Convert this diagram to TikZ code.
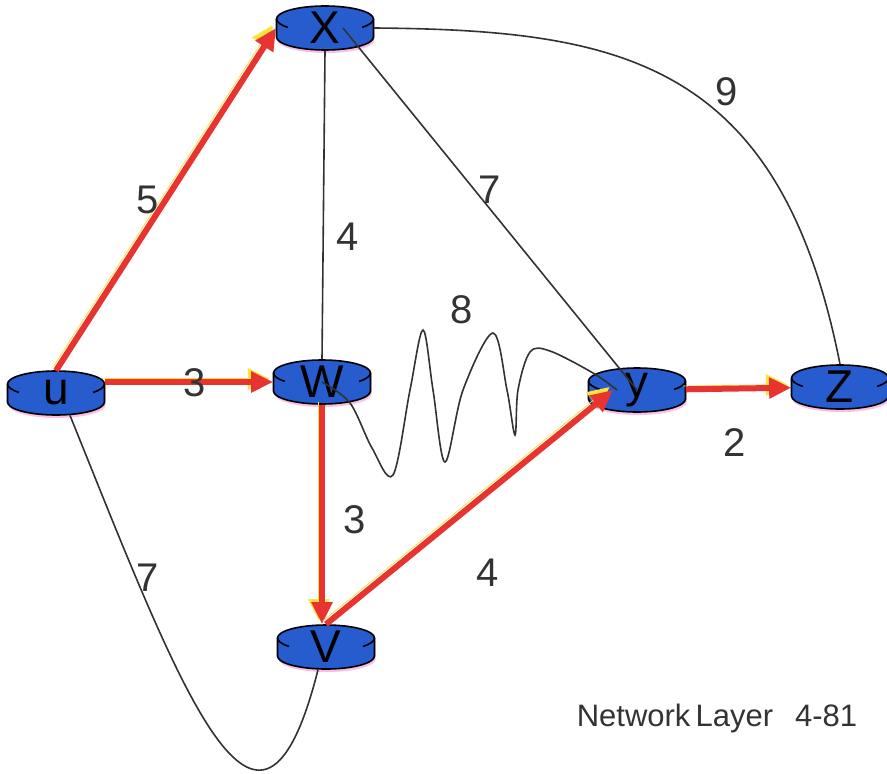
\documentclass[tikz,border=0pt]{standalone}
\usepackage{fontspec}
\setmainfont{Liberation Sans}
\usetikzlibrary{positioning,arrows.meta,calc,shapes.geometric}
\definecolor{routerblue}{RGB}{38,92,205}
\definecolor{pathred}{RGB}{232,52,48}
\definecolor{pathyellow}{RGB}{255,226,60}
\definecolor{linkgray}{RGB}{50,50,50}
\pgfdeclarelayer{back}
\pgfsetlayers{back,main}

\begin{document}
\begin{tikzpicture}[x=0.5pt,y=0.5pt,
  router/.style={ellipse,minimum width=48.5pt,minimum height=22pt,inner sep=0pt,font=\fontsize{23}{25}\selectfont},
  link/.style={draw=linkgray,line width=0.8pt},
  route/.style={draw=pathred,line width=3pt,-{Triangle[length=11pt,width=10pt]},
    preaction={draw=pathyellow,transform canvas={shift={(-1.6pt,1.6pt)}}}},
  cost/.style={font=\fontsize{20}{22}\selectfont,text=black!80}]
\useasboundingbox (0,0) rectangle (887,773);

% routers
\node[router] (u) at (56,380) {u};
\node[router] (x) at (325,745) {X};
\node[router] (w) at (322,391) {W};
\node[router] (y) at (637,383) {y};
\node[router] (z) at (840,386) {Z};
\node[router] (v) at (326,126) {V};

\begin{pgfonlayer}{back}
\foreach \n in {u,x,w,y,z,v}{
  \fill[magenta!25] ($(\n)+(-47.5,6)$) -- ++(0,-18) arc[start angle=180,end angle=360,x radius=48.5,y radius=13]
    -- ++(0,18) arc[start angle=0,end angle=180,x radius=48.5,y radius=13] -- cycle;
  \filldraw[fill=routerblue,draw=black,line width=0.8pt] ($(\n)+(-48.5,9)$) -- ++(0,-18)
    arc[start angle=180,end angle=360,x radius=48.5,y radius=13] -- ++(0,18)
    arc[start angle=0,end angle=180,x radius=48.5,y radius=13] -- cycle;
  \draw[line width=0.8pt] ($(\n)+(-48.5,9)$) arc[start angle=180,end angle=220,x radius=48.5,y radius=13];
  \draw[line width=0.8pt] ($(\n)+(48.5,9)$) arc[start angle=0,end angle=-40,x radius=48.5,y radius=13];
}
\end{pgfonlayer}

% plain links
\draw[link] (x.south) -- (w.north);
\draw[link] ([xshift=9pt]x.center) -- (y.center);
\draw[link] (x.east) .. controls (620,743) and (780,713) .. (z.north);
\draw[link] plot[smooth,tension=0.55] coordinates {(w.center) (350,370) (372,325) (393,298) (410,383) (423,443)
  (433,383) (445,311) (463,383) (493,440) (507,383) (515,338) (518,383) (530,421) (550,422) (593,400) ([xshift=-10pt]y.center)};
\draw[link] ([xshift=7pt]u.south) .. controls (182,80) and (259,-130) .. ([xshift=-4pt]v.south);

% shortest path tree
\draw[route] (u.north) -- (x.west);
\draw[route] (u.east |- w.west) -- (w.west);
\draw[route] (w.south) -- (w.south |- v.north);
\draw[route] (v.north) -- ([xshift=-12pt]y.center);
\draw[route] (y) -- (z);

% link costs
\node[cost] (c5) at (148,573) {5};
\node[cost] (c3a) at (195,390) {3};
\node[cost] (c4a) at (348,536) {4};
\node[cost] (c7a) at (490,583) {7};
\node[cost] (c9) at (727,681) {9};
\node[cost] (c8) at (462,463) {8};
\node[cost] (c3b) at (355,253) {3};
\node[cost] (c4b) at (488,200) {4};
\node[cost] (c2) at (735,330) {2};
\node[cost] (c7b) at (148,195) {7};

\node[font=\fontsize{15.5}{17}\selectfont,text=black!80] (foot) at (717,55) {Network\,Layer\hspace{11pt}4-81};
\end{tikzpicture}
\end{document}
